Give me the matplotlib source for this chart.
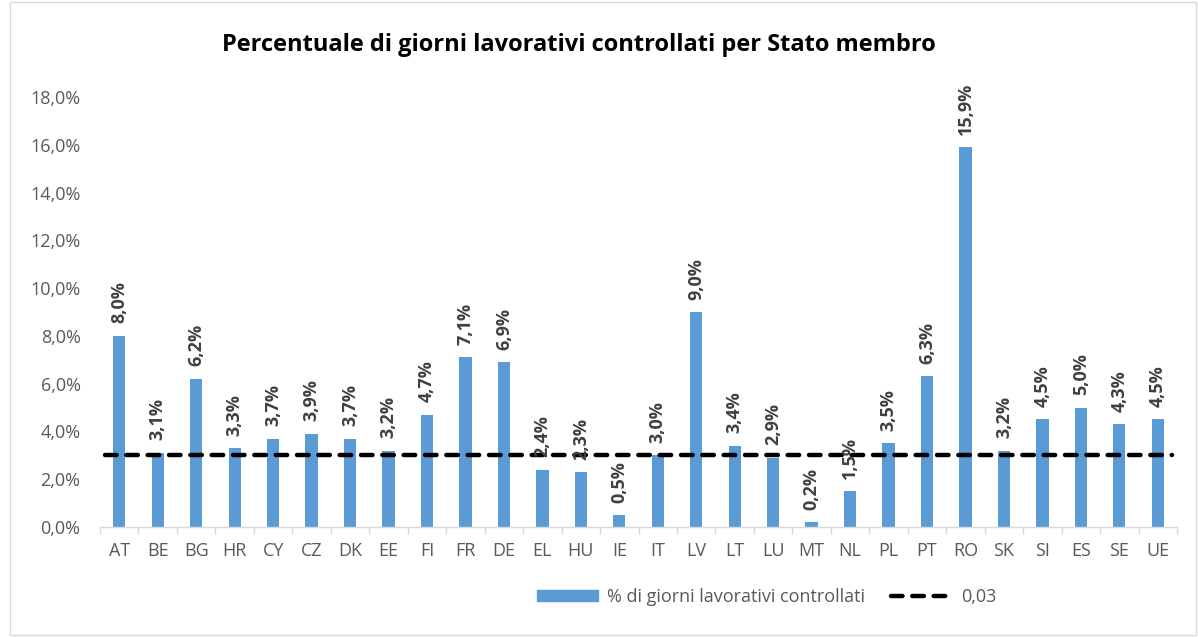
import matplotlib.pyplot as plt
from matplotlib.patches import Rectangle
from matplotlib.lines import Line2D
from matplotlib.ticker import FuncFormatter, FixedLocator
import numpy as np

plt.rcParams['font.family'] = ['Open Sans', 'DejaVu Sans']

countries = ['AT', 'BE', 'BG', 'HR', 'CY', 'CZ', 'DK', 'EE', 'FI', 'FR', 'DE', 'EL', 'HU', 'IE',
             'IT', 'LV', 'LT', 'LU', 'MT', 'NL', 'PL', 'PT', 'RO', 'SK', 'SI', 'ES', 'SE', 'UE']
pct_checked = [8.0, 3.1, 6.2, 3.3, 3.7, 3.9, 3.7, 3.2, 4.7, 7.1, 6.9, 2.4, 2.3, 0.5,
               3.0, 9.0, 3.4, 2.9, 0.2, 1.5, 3.5, 6.3, 15.9, 3.2, 4.5, 5.0, 4.3, 4.5]
threshold = 0.03

bar_color = '#5B9BD5'
text_color = '#595959'
dash = (0, (2.6, 2.2))

fig = plt.figure(figsize=(11.98, 6.37), dpi=100)
ax = fig.add_axes([0.0835, 0.1727, 0.899, 0.675])

x = np.arange(len(countries))
vals = np.array(pct_checked) / 100
ax.bar(x, vals, width=0.32, color=bar_color, zorder=2)
ax.axhline(threshold, color='black', linestyle=dash, linewidth=3.2, zorder=3,
           xmin=0.005, xmax=0.995, dash_capstyle='round')

for xi, v in zip(x, vals):
    ax.annotate(f'{v * 100:.1f}%'.replace('.', ','), (xi, v), xytext=(0, 9),
                textcoords='offset points', rotation=90, ha='center', va='bottom',
                fontsize=13, fontweight='bold', color='#404040', annotation_clip=False,
                zorder=4)

ax.set_xlim(-0.5, len(countries) - 0.5)
ax.set_ylim(0, 0.18)
ax.set_yticks(np.arange(0, 0.181, 0.02))
ax.yaxis.set_major_formatter(FuncFormatter(lambda v, p: f'{v * 100:.1f}%'.replace('.', ',')))
ax.set_xticks(x)
ax.set_xticklabels(countries)
ax.xaxis.set_minor_locator(FixedLocator(np.arange(-0.5, len(countries), 1)))
ax.tick_params(axis='x', which='major', length=0, labelsize=13, colors=text_color, pad=11)
ax.tick_params(axis='x', which='minor', length=5, color='#D9D9D9', width=1)
ax.tick_params(axis='y', length=0, labelsize=13, colors=text_color, pad=14)
for s in ['top', 'right', 'left']:
    ax.spines[s].set_visible(False)
ax.spines['bottom'].set_color('#D9D9D9')
ax.spines['bottom'].set_linewidth(1)

fig.text(0.483, 0.93, 'Percentuale di giorni lavorativi controllati per Stato membro',
         ha='center', va='center', fontsize=17, fontweight='bold', color='black')

handles = [Rectangle((0, 0), 1, 1, color=bar_color),
           Line2D([0], [0], color='black', linestyle=dash, linewidth=3.2,
                  dash_capstyle='round')]
fig.legend(handles, ['% di giorni lavorativi controllati', '0,03'], loc='center',
           bbox_to_anchor=(0.64, 0.063), ncol=2, frameon=False, fontsize=13,
           labelcolor=text_color, handlelength=3.4, handleheight=0.6, columnspacing=1.4,
           handletextpad=0.5)

fig.patches.append(Rectangle((0.008, 0.003), 0.99, 0.994, transform=fig.transFigure,
                             fill=False, edgecolor='#D9D9D9', linewidth=1))

fig.savefig('out.png', dpi=100)
